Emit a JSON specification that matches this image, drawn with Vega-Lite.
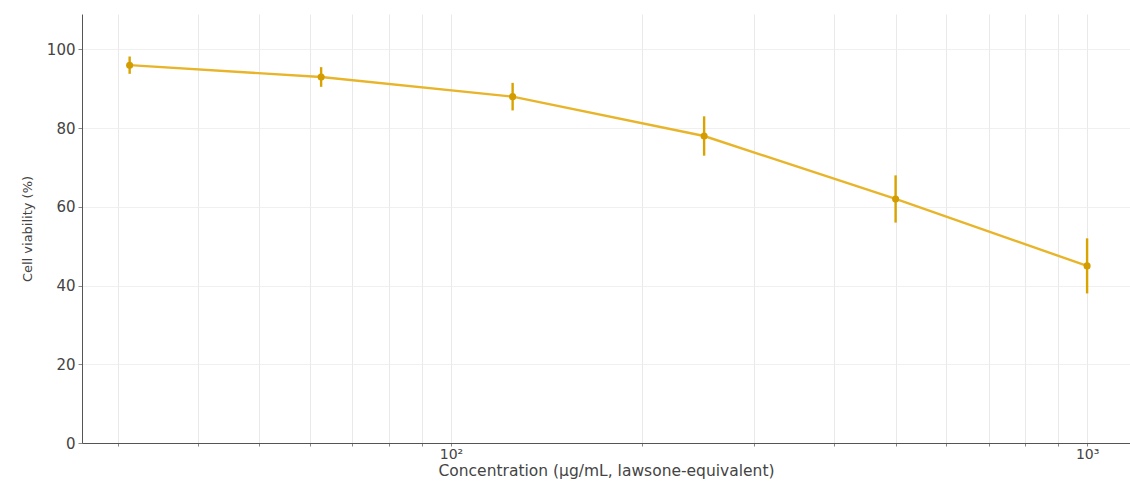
{
  "$schema": "https://vega.github.io/schema/vega-lite/v6.json",
  "width": 1048,
  "height": 429,
  "autosize": "none",
  "padding": {"left": 82, "top": 14, "right": 0, "bottom": 39},
  "background": "white",
  "config": {
    "view": {"stroke": null},
    "font": "DejaVu Sans"
  },
  "data": {
    "values": [
      {"conc": 31.25, "viability": 96, "sd": 2.2},
      {"conc": 62.5, "viability": 93, "sd": 2.5},
      {"conc": 125, "viability": 88, "sd": 3.5},
      {"conc": 250, "viability": 78, "sd": 5},
      {"conc": 500, "viability": 62, "sd": 6},
      {"conc": 1000, "viability": 45, "sd": 7}
    ]
  },
  "transform": [
    {"calculate": "datum.viability - datum.sd", "as": "lo"},
    {"calculate": "datum.viability + datum.sd", "as": "hi"}
  ],
  "encoding": {
    "x": {
      "field": "conc",
      "type": "quantitative",
      "scale": {"type": "log", "domain": [26.3, 1168], "nice": false},
      "axis": {
        "title": "Concentration (µg/mL, lawsone-equivalent)",
        "titleFont": "DejaVu Sans",
        "titleFontSize": 15.5,
        "titleFontWeight": "normal",
        "titleColor": "#444",
        "titlePadding": 2,
        "values": [30, 40, 50, 60, 70, 80, 90, 100, 200, 300, 400, 500, 600, 700, 800, 900, 1000],
        "labelExpr": "datum.value == 100 ? '10²' : (datum.value == 1000 ? '10³' : '')",
        "labelFontSize": 14,
        "labelColor": "#444",
        "labelPadding": 1,
        "tickSize": 3,
        "tickColor": "#888",
        "domainColor": "#555",
        "gridColor": "#e3e3e3",
        "gridWidth": 0.8
      }
    },
    "y": {
      "type": "quantitative",
      "scale": {"domain": [0, 109], "nice": false}
    }
  },
  "layer": [
    {
      "mark": {"type": "rule", "color": "#d9a300", "strokeWidth": 2.4},
      "encoding": {
        "y": {"field": "lo", "type": "quantitative", "axis": {
          "title": "Cell viability (%)",
          "titleFontSize": 13,
          "titleFontWeight": "normal",
          "titleColor": "#444",
          "titlePadding": 12,
          "values": [0, 20, 40, 60, 80, 100],
          "labelFontSize": 15,
          "labelColor": "#444",
          "labelPadding": 3,
          "tickSize": 4,
          "tickColor": "#888",
          "domainColor": "#555",
          "gridColor": "#ececec",
          "gridWidth": 0.8
        }},
        "y2": {"field": "hi"}
      }
    },
    {
      "mark": {"type": "line", "color": "#e8b52a", "strokeWidth": 2.4},
      "encoding": {"y": {"field": "viability", "type": "quantitative"}}
    },
    {
      "mark": {"type": "point", "filled": true, "color": "#d39c00", "size": 50, "opacity": 1},
      "encoding": {"y": {"field": "viability", "type": "quantitative"}}
    }
  ]
}
